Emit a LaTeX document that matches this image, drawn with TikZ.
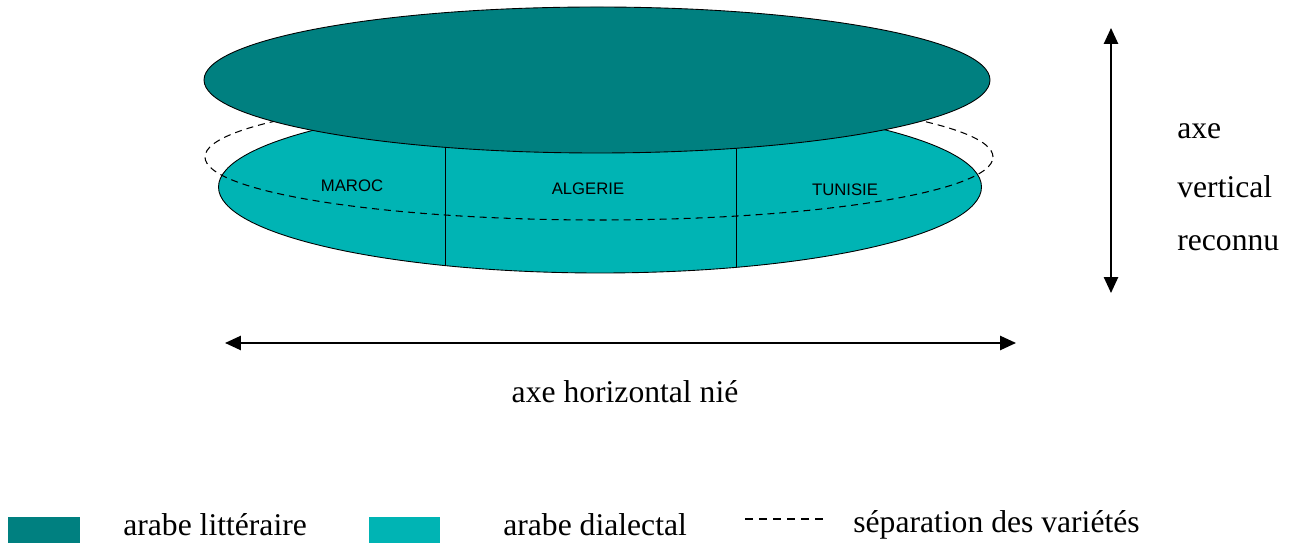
\documentclass[tikz,border=0pt]{standalone}
\usepackage{fontspec}
\setmainfont{Liberation Serif}
\newfontfamily\paysfont{Liberation Sans}
\usetikzlibrary{arrows.meta}
\definecolor{litteraire}{RGB}{0,128,128}
\definecolor{dialectal}{RGB}{0,180,180}
\tikzset{>={Triangle[length=9pt,width=8pt]},
  axe/.style={<->,line width=1.1pt},
  bord/.style={line width=0.5pt},
  separation/.style={line width=0.6pt,dash pattern=on 0.14cm off 0.1cm},
  pays/.style={font=\paysfont\fontsize{9.5}{10}\selectfont},
  legende/.style={font=\fontsize{18}{22}\selectfont,anchor=west,inner sep=0pt}}

\begin{document}
\begin{tikzpicture}
\useasboundingbox (0,0) rectangle (25.9,10.86);
\fill[dialectal,draw=black,bord] (12,7.12) ellipse [x radius=7.63cm,y radius=1.72cm];
\begin{scope}
\clip (12,7.12) ellipse [x radius=7.63cm,y radius=1.72cm];
\draw[bord] (8.9,5) -- (8.9,9);
\draw[bord] (14.72,5) -- (14.72,9);
\end{scope}
\node[pays] (maroc) at (7.04,7.14) {MAROC};
\node[pays] (algerie) at (11.76,7.08) {ALGERIE};
\node[pays] (tunisie) at (16.9,7.06) {TUNISIE};
\draw[separation] (11.98,7.72) ellipse [x radius=7.88cm,y radius=1.26cm];
\fill[litteraire,draw=black,bord] (11.94,9.26) ellipse [x radius=7.86cm,y radius=1.46cm];

\coordinate (vhaut) at (22.22,10.3);
\coordinate (vbas) at (22.22,5.0);
\draw[axe] (vhaut) -- (vbas);
\node[legende] (axe) at (23.54,8.24) {axe};
\node[legende] (vertical) at (23.54,7.12) {vertical};
\node[legende] (reconnu) at (23.54,6.0) {reconnu};

\coordinate (hgauche) at (4.5,4.0);
\coordinate (hdroite) at (20.32,4.0);
\draw[axe] (hgauche) -- (hdroite);
\node[legende,anchor=center] (horizontal) at (12.5,3.02) {axe horizontal nié};

\fill[litteraire] (0.16,0) rectangle (1.6,0.52);
\node[legende] (lit) at (2.46,0.36) {arabe littéraire};
\fill[dialectal] (7.38,0) rectangle (8.8,0.52);
\node[legende] (dia) at (10.06,0.36) {arabe dialectal};
\draw[line width=0.8pt,dash pattern=on 0.16cm off 0.12cm] (14.9,0.48) -- (16.46,0.48);
\node[legende] (sep) at (17.06,0.36) {séparation des variétés};
\end{tikzpicture}
\end{document}
